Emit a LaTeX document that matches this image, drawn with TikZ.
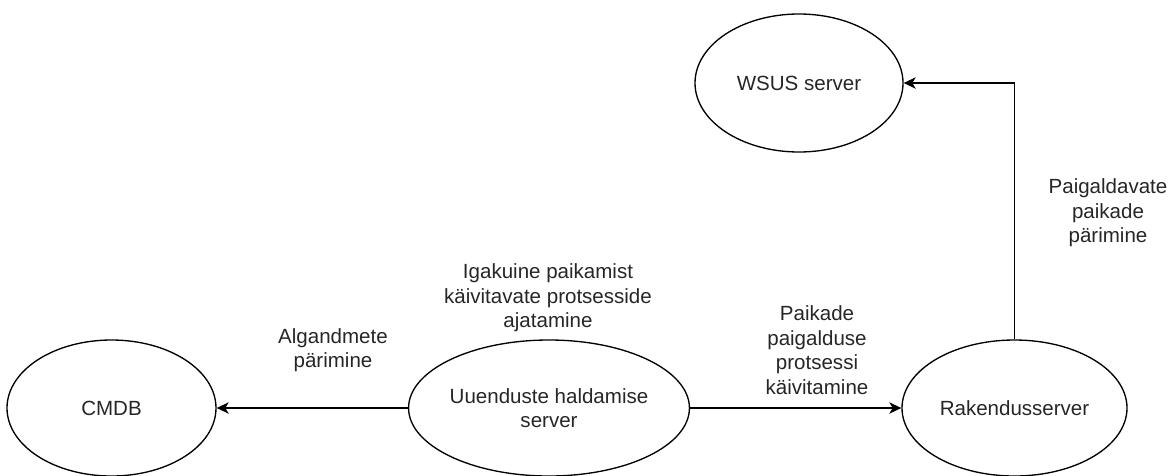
\documentclass[tikz,border=0pt]{standalone}
\usepackage{fontspec}
\setmainfont{Liberation Sans}
\usetikzlibrary{shapes.geometric,arrows.meta}
\definecolor{txtgray}{HTML}{262626}
\tikzset{
  srv/.style={ellipse,draw,line width=1pt,inner sep=0pt,align=center,text=txtgray},
  lbl/.style={align=center,inner sep=0pt,text=txtgray},
  flow/.style={line width=1pt,-{Stealth[length=9pt,width=8.5pt,inset=2.5pt]}},
}
\begin{document}
\begin{tikzpicture}[x=0.75pt,y=-0.75pt,font=\fontsize{15.4}{18.45}\selectfont]
  \useasboundingbox (0,0) rectangle (1176,475);
  \draw
    (111.5,408) node[srv,minimum width=156.75pt,minimum height=102pt] (cmdb){CMDB}
    (549,408) node[srv,minimum width=168pt,minimum height=102pt] (haldus){Uuenduste haldamise\\server}
    (1014.5,408) node[srv,minimum width=168.75pt,minimum height=102pt] (rakendus){Rakendusserver}
    (799,83) node[srv,minimum width=156pt,minimum height=103.5pt] (wsus){WSUS server};
  \draw
    (333,350) node[lbl] (l1){Algandmete\\pärimine}
    (548,298) node[lbl] (l2){Igakuine paikamist\\käivitavate protsesside\\ajatamine}
    (817,350) node[lbl] (l3){Paikade\\paigalduse\\protsessi\\käivitamine}
    (1108,213) node[lbl] (l4){Paigaldavate\\paikade\\pärimine};
  \begin{scope}[flow]
    \draw (haldus) to (cmdb);
    \draw (haldus) to (rakendus);
    \draw (rakendus.north) |- (wsus.east);
  \end{scope}
\end{tikzpicture}
\end{document}
